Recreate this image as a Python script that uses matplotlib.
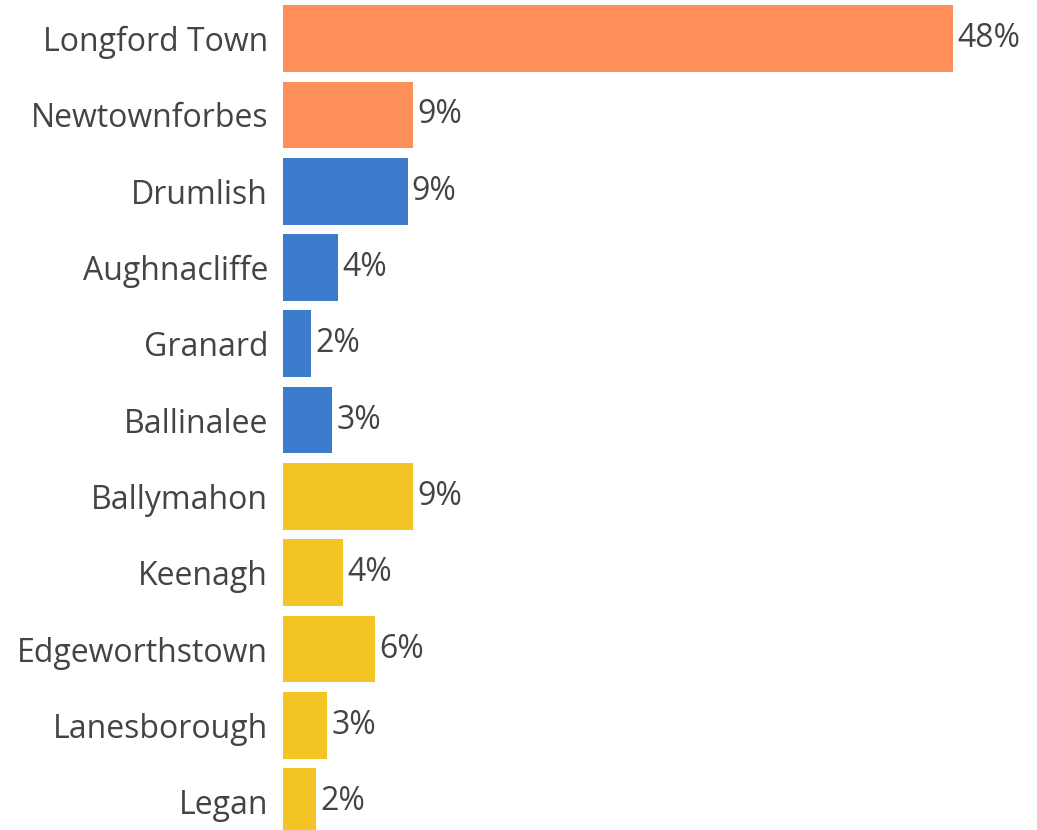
import matplotlib.pyplot as plt

towns = ["Longford Town", "Newtownforbes", "Drumlish", "Aughnacliffe", "Granard",
         "Ballinalee", "Ballymahon", "Keenagh", "Edgeworthstown", "Lanesborough", "Legan"]
shares = [48.0, 9.3, 8.9, 3.9, 2.0, 3.5, 9.3, 4.3, 6.6, 3.15, 2.35]
share_labels = ["48%", "9%", "9%", "4%", "2%", "3%", "9%", "4%", "6%", "3%", "2%"]
groups = ["north", "north", "west", "west", "west", "west",
          "south", "south", "south", "south", "south"]

group_colors = {"north": "#FF8F59", "west": "#3D7CCC", "south": "#F4C425"}
text_color = "#444444"

plt.rcParams['font.family'] = ['Open Sans', 'DejaVu Sans']

fig = plt.figure(figsize=(10.37, 8.3), dpi=100)
ax = fig.add_axes([283.3 / 1037, 0, 1 - 283.3 / 1037, 1])

pos = list(range(len(towns)))
colors = [group_colors[g] for g in groups]
ax.barh(pos, shares, height=0.874, color=colors)

for y, v, lab in zip(pos, shares, share_labels):
    ax.text(v + 0.3, y, lab, va='center', ha='left', fontsize=23, color=text_color)

ax.set_yticks(pos)
ax.set_yticklabels(towns, fontsize=23, color=text_color)
ax.tick_params(axis='y', length=0, pad=11)
ax.set_xticks([])
ax.set_xlim(0, (1037 - 283.3) / 13.96)
ax.set_ylim(10.372, -0.5066)
for s in ax.spines.values():
    s.set_visible(False)

fig.savefig("out.png", dpi=100)
